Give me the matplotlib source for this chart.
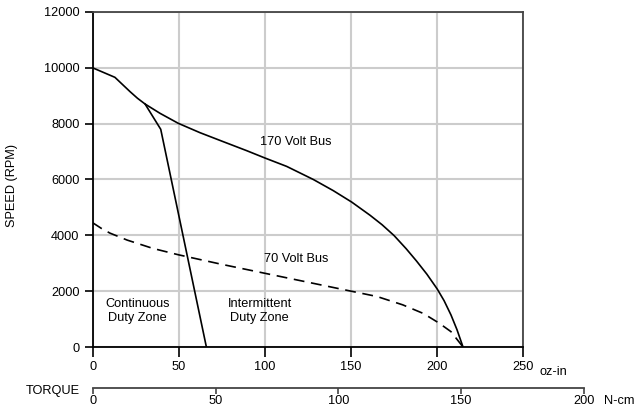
"""
Speed/torque curve for a servo motor at 170 V and 70 V bus.
"""
import matplotlib
matplotlib.use("Agg")
import matplotlib.pyplot as plt

plt.rcParams["font.family"] = ["Liberation Sans", "DejaVu Sans"]
plt.rcParams["font.size"] = 9.2

# 170 V bus curve (oz-in, rpm)
torque_170 = [0, 12.9, 21.7, 26, 30.4, 39.1, 49.7, 62.3, 75.8, 89.4, 100, 112.6, 128.1,
              139.7, 150.4, 161, 168, 175, 182, 188, 194, 200, 204, 208, 211.5, 215]
speed_170 = [10000, 9660, 9146, 8910, 8704, 8370, 8012, 7677, 7355, 7033, 6770, 6470, 6000,
             5600, 5190, 4720, 4380, 3990, 3520, 3080, 2610, 2080, 1660, 1150, 620, 0]

# 70 V bus curve (dashed)
torque_70 = [0, 5, 10, 20, 35, 50, 75, 100, 125, 150, 165, 180, 192, 201, 208, 215]
speed_70 = [4450, 4250, 4080, 3830, 3530, 3300, 2960, 2640, 2320, 2000, 1810, 1510,
            1200, 860, 550, 0]

# continuous duty boundary
torque_cont = [30.4, 39.5, 66]
speed_cont = [8704, 7798, 0]

oz_ticks = [0, 50, 100, 150, 200, 250]
rpm_ticks = [0, 2000, 4000, 6000, 8000, 10000, 12000]
ncm_ticks = [0, 50, 100, 150, 200]

W, H = 636, 420
fig = plt.figure(figsize=(W / 100, H / 100), dpi=100)
ax = fig.add_axes([92.7 / W, (H - 347) / H, (523.3 - 92.7) / W, (347 - 12) / H])

ax.plot(torque_170, speed_170, color="black", lw=1.2, zorder=3)
ax.plot(torque_70, speed_70, color="black", lw=1.2, ls=(0, (6.5, 4)), zorder=3)
ax.plot(torque_cont, speed_cont, color="black", lw=1.2, zorder=3)

ax.text(118, 7350, "170 Volt Bus", ha="center", va="center")
ax.text(118, 3140, "70 Volt Bus", ha="center", va="center")
ax.text(26, 1300, "Continuous\nDuty Zone", ha="center", va="center", linespacing=1.2)
ax.text(97, 1300, "Intermittent\nDuty Zone", ha="center", va="center", linespacing=1.2)

ax.set_xlim(0, 250)
ax.set_ylim(0, 12000)
ax.set_xticks(oz_ticks)
ax.set_yticks(rpm_ticks)
ax.grid(True, color="#cccccc", lw=1.5)
ax.set_axisbelow(True)
ax.tick_params(axis="x", length=7, width=1.2, pad=3)
ax.tick_params(axis="y", length=5.5, width=1.2, pad=4)
for side in ["left", "bottom"]:
    ax.spines[side].set_color("black")
    ax.spines[side].set_linewidth(1.3)
for side in ["top", "right"]:
    ax.spines[side].set_color("#444444")
    ax.spines[side].set_linewidth(1.3)

# second torque scale in N-cm, drawn as its own axis line
ax2 = fig.add_axes([92.7 / W, (H - 388) / H, (584 - 92.7) / W, 0.001])
ax2.set_xlim(0, 200)
ax2.set_xticks(ncm_ticks)
ax2.set_yticks([])
for side in ["left", "right", "top"]:
    ax2.spines[side].set_visible(False)
ax2.spines["bottom"].set_color("#444444")
ax2.spines["bottom"].set_linewidth(1.3)
ax2.patch.set_visible(False)
ax2.tick_params(axis="x", length=4, width=1.2, pad=1, color="#444444")

fig.text(12 / W, 1 - 185 / H, "SPEED (RPM)", rotation=90, ha="center", va="center")
fig.text(80 / W, 1 - 391 / H, "TORQUE", ha="right", va="center")
fig.text(540 / W, 1 - 372 / H, "oz-in", ha="left", va="center")
fig.text(604 / W, 1 - 401 / H, "N-cm", ha="left", va="center")

fig.savefig("out.png", dpi=100)
